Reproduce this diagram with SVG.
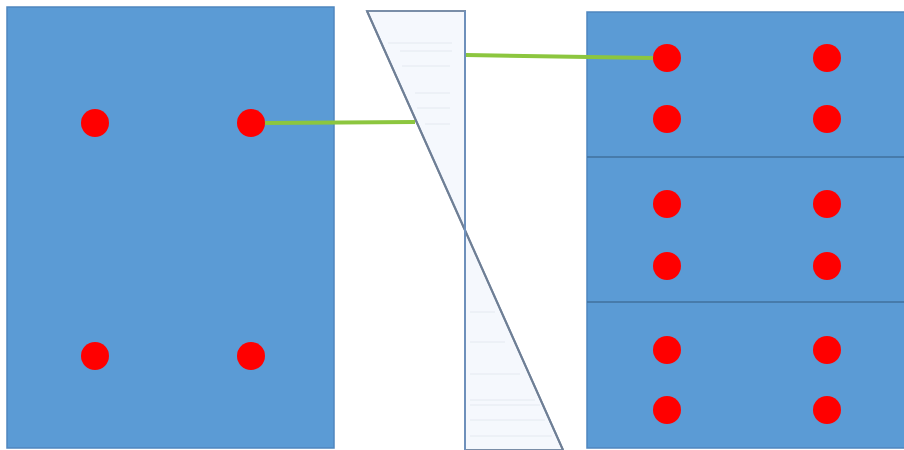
<svg xmlns="http://www.w3.org/2000/svg" width="904" height="450" viewBox="0 0 904 450">
<style>
.panel{fill:#5b9bd5;stroke:#4f86bf;stroke-width:1.5}
.div{stroke:#41719c;stroke-width:1.5}
.dot{fill:#ff0000}
.tri{fill:#f5f8fd;stroke:#7a8ea8;stroke-width:2}
.hl{stroke:#e4e9f0;stroke-width:1}
.conn{stroke:#8cc63f;stroke-width:4;fill:none}
</style>
<rect width="904" height="450" fill="#ffffff"/>
<g id="left-section">
<rect class="panel" x="7" y="7" width="327" height="441"/>
<circle class="dot" cx="95" cy="123" r="14"/>
<circle class="dot" cx="251" cy="123" r="14"/>
<circle class="dot" cx="95" cy="356" r="14"/>
<circle class="dot" cx="251" cy="356" r="14"/>
</g>
<g id="strain-diagram">
<polygon class="tri" points="367,11 465,11 465,230"/>
<polygon class="tri" points="465,230 465,450 563,450"/>
<g class="hl">
<line x1="388" y1="43" x2="452" y2="43"/>
<line x1="400" y1="51" x2="452" y2="51"/>
<line x1="402" y1="66" x2="450" y2="66"/>
<line x1="415" y1="93" x2="450" y2="93"/>
<line x1="417" y1="108" x2="450" y2="108"/>
<line x1="425" y1="124" x2="450" y2="124"/>
<line x1="470" y1="312" x2="495" y2="312"/>
<line x1="470" y1="342" x2="505" y2="342"/>
<line x1="470" y1="374" x2="520" y2="374"/>
<line x1="470" y1="400" x2="535" y2="400"/>
<line x1="470" y1="405" x2="540" y2="405"/>
<line x1="470" y1="420" x2="545" y2="420"/>
<line x1="470" y1="436" x2="552" y2="436"/>
</g>
<line x1="367" y1="11" x2="563" y2="450" stroke="#6f7f95" stroke-width="2"/>
<line x1="465" y1="11" x2="465" y2="450" stroke="#6e90bb" stroke-width="2"/>
</g>
<g id="right-section">
<rect class="panel" x="587" y="12" width="330" height="436"/>
<line class="div" x1="587" y1="157" x2="904" y2="157"/>
<line class="div" x1="587" y1="302" x2="904" y2="302"/>
<circle class="dot" cx="667" cy="58" r="14"/>
<circle class="dot" cx="827" cy="58" r="14"/>
<circle class="dot" cx="667" cy="119" r="14"/>
<circle class="dot" cx="827" cy="119" r="14"/>
<circle class="dot" cx="667" cy="204" r="14"/>
<circle class="dot" cx="827" cy="204" r="14"/>
<circle class="dot" cx="667" cy="266" r="14"/>
<circle class="dot" cx="827" cy="266" r="14"/>
<circle class="dot" cx="667" cy="350" r="14"/>
<circle class="dot" cx="827" cy="350" r="14"/>
<circle class="dot" cx="667" cy="410" r="14"/>
<circle class="dot" cx="827" cy="410" r="14"/>
</g>
<g id="connectors">
<line class="conn" x1="265" y1="123" x2="415" y2="122"/>
<line class="conn" x1="466" y1="55" x2="653" y2="58"/>
</g>
</svg>
